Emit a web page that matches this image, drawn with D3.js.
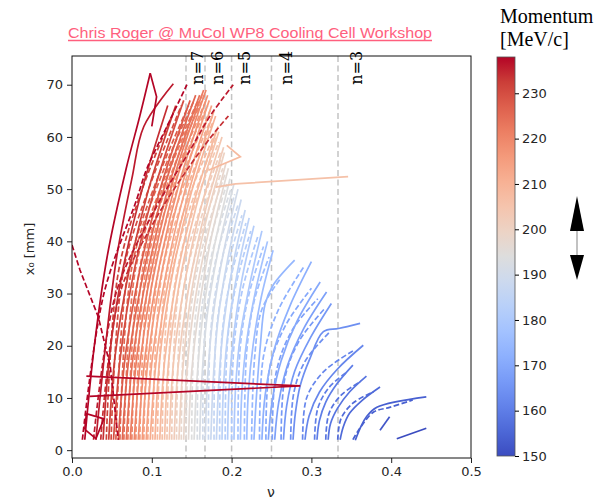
<!DOCTYPE html>
<html>
<head>
<meta charset="utf-8">
<script src="https://cdn.jsdelivr.net/npm/d3@7"></script>
<style>
body { margin: 0; background: #fff; }
svg { display: block; }
</style>
</head>
<body>
<div id="chart"></div>
<script>
// momentum of each tracked particle (MeV/c), drawn low to high
const momenta = [150, 152, 154, 156, 158, 160, 162, 164, 166, 168, 170, 172, 174, 176, 178,
    180, 182, 184, 186, 188, 190, 192, 194, 196, 198, 200, 202, 204, 206, 208,
    210, 212, 214, 216, 218, 220, 222, 224, 226, 228, 230, 232, 234, 236, 238];

// solid curves: [nu, x0]
const solidCurves = {
    150: [[0.407, 2.2], [0.444, 4.2]],
    152: [[0.386, 3.8], [0.398, 6.4]],
    154: [[0.355, 1.9], [0.362, 4.5], [0.369, 6.4], [0.382, 8.2], [0.444, 10.2]],
    156: [[0.336, 2], [0.340, 4.5], [0.348, 7.1], [0.364, 9.6], [0.386, 12.1]],
    158: [[0.321, 2], [0.324, 5.1], [0.333, 8.1], [0.348, 11.2], [0.369, 14.2]],
    160: [[0.307, 2], [0.310, 5.6], [0.318, 9.2], [0.332, 12.7], [0.352, 16.3]],
    162: [[0.292, 2], [0.297, 6.5], [0.310, 11.1], [0.333, 15.6], [0.365, 20.1]],
    164: [[0.277, 2], [0.280, 7.2], [0.286, 12.4], [0.298, 17.5], [0.315, 22.7], [0.334, 23.3], [0.361, 24.3]],
    166: [[0.265, 2], [0.269, 8.5], [0.279, 15.1], [0.299, 21.6], [0.325, 28.1]],
    168: [[0.254, 2], [0.259, 9.1], [0.270, 16.2], [0.290, 23.2], [0.319, 30.3]],
    170: [[0.246, 2], [0.251, 9.6], [0.262, 17.1], [0.282, 24.7], [0.311, 32.2]],
    172: [[0.238, 2], [0.242, 10.5], [0.253, 19.1], [0.273, 27.6], [0.300, 36.1]],
    174: [[0.228, 2], [0.231, 10], [0.236, 20], [0.242, 28], [0.252, 31.6], [0.279, 36.4]],
    176: [[0.219, 2], [0.221, 11.1], [0.227, 20.2], [0.237, 29.2], [0.252, 38.3]],
    178: [[0.211, 2], [0.213, 11.5], [0.219, 21], [0.230, 30.5], [0.245, 40]],
    180: [[0.203, 2], [0.205, 12], [0.211, 22], [0.223, 32], [0.238, 42]],
    182: [[0.195, 2], [0.197, 12.3], [0.203, 22.5], [0.213, 32.8], [0.228, 43]],
    184: [[0.188, 2], [0.190, 12.6], [0.196, 23.3], [0.207, 33.9], [0.222, 44.5]],
    186: [[0.181, 2], [0.184, 13], [0.190, 24], [0.201, 35], [0.217, 46]],
    188: [[0.174, 2], [0.177, 13.5], [0.183, 25], [0.195, 36.5], [0.212, 48]],
    190: [[0.167, 2], [0.170, 14], [0.177, 26], [0.190, 38], [0.208, 50]],
    192: [[0.160, 2], [0.163, 14.3], [0.170, 26.5], [0.184, 38.8], [0.203, 51]],
    194: [[0.153, 2], [0.157, 14.5], [0.165, 27], [0.179, 39.5], [0.198, 52]],
    196: [[0.146, 2], [0.150, 15], [0.160, 28], [0.175, 41], [0.196, 54]],
    198: [[0.140, 2], [0.144, 15.3], [0.154, 28.5], [0.171, 41.8], [0.193, 55]],
    200: [[0.134, 2], [0.139, 15.8], [0.149, 29.5], [0.167, 43.3], [0.191, 57]],
    202: [[0.128, 2], [0.133, 16], [0.145, 30], [0.164, 44], [0.190, 58]],
    204: [[0.122, 2], [0.127, 16.5], [0.140, 31], [0.160, 45.5], [0.188, 60]],
    206: [[0.116, 2], [0.121, 16.8], [0.134, 31.5], [0.155, 46.3], [0.184, 61]],
    208: [[0.110, 2], [0.116, 17], [0.130, 32], [0.152, 47], [0.183, 62]],
    210: [[0.104, 2], [0.110, 17.5], [0.125, 33], [0.148, 48.5], [0.180, 64]],
    212: [[0.098, 2], [0.106, 17.8], [0.122, 33.5], [0.146, 49.3], [0.178, 65]],
    214: [[0.093, 2], [0.101, 18], [0.118, 34], [0.142, 50], [0.175, 66]],
    216: [[0.088, 2], [0.096, 18.3], [0.113, 34.5], [0.138, 50.8], [0.172, 67]],
    218: [[0.083, 2], [0.092, 18.5], [0.109, 35], [0.135, 51.5], [0.170, 68]],
    220: [[0.078, 2], [0.087, 18.8], [0.105, 35.5], [0.132, 52.3], [0.168, 69]],
    222: [[0.073, 2], [0.082, 18.8], [0.101, 35.5], [0.128, 52.3], [0.165, 69]],
    224: [[0.068, 2], [0.077, 18.5], [0.096, 35], [0.123, 51.5], [0.160, 68]],
    226: [[0.063, 2], [0.072, 18.5], [0.091, 35], [0.118, 51.5], [0.155, 68]],
    228: [[0.058, 2], [0.067, 18.3], [0.085, 34.5], [0.112, 50.8], [0.148, 67]],
    230: [[0.052, 2], [0.061, 18.3], [0.078, 34.5], [0.105, 50.8], [0.140, 67]],
    232: [[0.046, 2], [0.054, 18], [0.071, 34], [0.096, 50], [0.130, 66]],
    234: [[0.039, 2], [0.047, 18], [0.063, 34], [0.088, 50], [0.120, 66]],
    236: [[0.030, 2], [0.042, 20], [0.056, 37], [0.075, 52], [0.090, 62], [0.127, 70.2]],
    238: [[0.016, 2], [0.028, 20], [0.044, 37], [0.068, 54], [0.085, 64], [0.098, 72.2]]
};

// dashed curves (second estimate), same momenta
const dashedCurves = {
    154: [[0.352, 2], [0.359, 3.8], [0.378, 7.3], [0.398, 8.2], [0.427, 9.6]],
    156: [[0.333, 2], [0.337, 6], [0.352, 9], [0.378, 11.2]],
    158: [[0.318, 2], [0.322, 7], [0.337, 10.5], [0.362, 13.2]],
    160: [[0.304, 2], [0.308, 8], [0.322, 12], [0.345, 15]],
    162: [[0.289, 2], [0.294, 10], [0.315, 15], [0.352, 19]],
    164: [[0.274, 2], [0.278, 11], [0.292, 17], [0.322, 22.5]],
    166: [[0.262, 2], [0.267, 14], [0.285, 21], [0.316, 27]],
    168: [[0.251, 2], [0.256, 15], [0.276, 23], [0.308, 29]],
    170: [[0.243, 2], [0.248, 16], [0.268, 24], [0.300, 31]],
    172: [[0.235, 2], [0.240, 18], [0.259, 27], [0.290, 35]],
    174: [[0.225, 2], [0.229, 18], [0.238, 27], [0.262, 33]],
    176: [[0.216, 2], [0.219, 19], [0.229, 29], [0.247, 37]],
    178: [[0.208, 2], [0.211, 20], [0.222, 30], [0.240, 39]],
    180: [[0.200, 2], [0.203, 20], [0.214, 31], [0.233, 41]],
    182: [[0.192, 2], [0.195, 21], [0.206, 32], [0.224, 42]],
    184: [[0.185, 2], [0.188, 22], [0.199, 33], [0.218, 43.5]],
    186: [[0.178, 2], [0.181, 23], [0.193, 34], [0.213, 45]],
    188: [[0.171, 2], [0.174, 23], [0.187, 36], [0.208, 47]],
    190: [[0.164, 2], [0.167, 24], [0.181, 37], [0.204, 49]],
    192: [[0.157, 2], [0.161, 25], [0.176, 38], [0.199, 50]],
    194: [[0.150, 2], [0.155, 26], [0.171, 39], [0.194, 51]],
    196: [[0.143, 2], [0.149, 27], [0.167, 41], [0.192, 53]],
    198: [[0.137, 2], [0.143, 28], [0.163, 42], [0.189, 54]],
    200: [[0.131, 2], [0.138, 29], [0.159, 43], [0.187, 56]],
    202: [[0.125, 2], [0.133, 30], [0.156, 44], [0.186, 57]],
    204: [[0.119, 2], [0.128, 31], [0.152, 46], [0.184, 59]],
    206: [[0.113, 2], [0.122, 31], [0.147, 46], [0.181, 60]],
    208: [[0.107, 2], [0.117, 32], [0.143, 47], [0.180, 61]],
    210: [[0.101, 2], [0.112, 33], [0.139, 48], [0.177, 63]],
    212: [[0.095, 2], [0.107, 33], [0.136, 49], [0.176, 64]],
    214: [[0.090, 2], [0.102, 34], [0.132, 50], [0.173, 65]],
    216: [[0.085, 2], [0.097, 34], [0.128, 51], [0.170, 66]],
    218: [[0.080, 2], [0.093, 35], [0.125, 51], [0.168, 67]],
    220: [[0.075, 2], [0.089, 35], [0.122, 52], [0.166, 68]],
    222: [[0.070, 2], [0.085, 35], [0.118, 52], [0.163, 68]],
    224: [[0.065, 2], [0.080, 35], [0.113, 51], [0.158, 67]],
    226: [[0.060, 2], [0.075, 35], [0.108, 51], [0.153, 67]],
    228: [[0.055, 2], [0.070, 34], [0.102, 50], [0.146, 66]],
    230: [[0.049, 2], [0.064, 34], [0.096, 50], [0.137, 66]],
    232: [[0.043, 2], [0.058, 34], [0.088, 50], [0.128, 65]],
    234: [[0.036, 2], [0.060, 30], [0.100, 43], [0.150, 55], [0.181, 61.3], [0.196, 64]],
    236: [[0.027, 2], [0.055, 30], [0.100, 45], [0.150, 58], [0.173, 64], [0.202, 70]],
    238: [[0.013, 2], [0.040, 30], [0.081, 48], [0.094, 54], [0.119, 62], [0.144, 70]]
};

// odd straight pieces (lost tracks)
const strayMomenta = [238, 238, 238, 206, 208, 238];
const strayDashes = [false, false, false, false, false, true];
const strayCurves = [
    [[0.098, 72.2], [0.106, 67.7], [0.100, 62]],
    [[0.018, 14.2], [0.286, 12.3], [0.022, 10.3]],
    [[0.016, 4], [0.018, 7], [0.040, 6], [0.030, 2.2], [0.016, 4]],
    [[0.180, 50.4], [0.205, 51], [0.346, 52.4]],
    [[0.171, 53.6], [0.211, 56.2], [0.194, 58.4]],
    [[0.0, 39.3], [0.010, 34.5], [0.033, 25.5], [0.048, 16], [0.058, 2]]
];

// resonance lines nu = 1/n and their labels
const resonanceN = [7, 6, 5, 4, 3];
const resonanceNu = [1 / 7, 1 / 6, 1 / 5, 1 / 4, 1 / 3];
const resonanceLabelNu = [0.164, 0.189, 0.223, 0.276, 0.363];

const xTicks = [0, 0.1, 0.2, 0.3, 0.4, 0.5];
const yTicks = [0, 10, 20, 30, 40, 50, 60, 70];
const cTicks = [150, 160, 170, 180, 190, 200, 210, 220, 230];

// matplotlib coolwarm
const coolwarm = ['#3b4cc0', '#4d68d7', '#6282ea', '#779af7', '#8db0fe', '#a3c2ff', '#b8d0f9', '#ccd9ee',
    '#dddddd', '#ecd3c5', '#f5c4ad', '#f7b194', '#f49a7b', '#ec7f63', '#de604d', '#cb3e38', '#b40426'];

const width = 612;
const height = 503;
const pMin = 150, pMax = 238;

const x = d3.scaleLinear().domain([0, 0.5]).range([72, 471]);
const y = d3.scaleLinear().domain([-1.5, 75.5]).range([458, 56]);
const c = d3.scaleLinear().domain([pMin, pMax]).range([456, 57]);

const color = d3.scaleLinear()
    .domain(coolwarm.map((d, i) => pMin + i * (pMax - pMin) / (coolwarm.length - 1)))
    .range(coolwarm)
    .interpolate(d3.interpolateRgb);

const svg = d3.select('#chart').append('svg').attr('width', width).attr('height', height);
svg.append('rect').attr('width', width).attr('height', height).attr('fill', '#fff');

// title _______________________________________________________________________
svg.append('text')
    .attr('x', 68).attr('y', 37.5)
    .attr('font-family', 'Liberation Sans, Arial, sans-serif')
    .attr('font-size', 15)
    .attr('fill', '#ff5f7e')
    .attr('textLength', 364).attr('lengthAdjust', 'spacingAndGlyphs')
    .text('Chris Roger @ MuCol WP8 Cooling Cell Workshop');
svg.append('line')
    .attr('x1', 68).attr('x2', 432).attr('y1', 40.5).attr('y2', 40.5)
    .attr('stroke', '#ff5f7e').attr('stroke-width', 1.4);

svg.append('clipPath').attr('id', 'plot')
    .append('rect').attr('x', 72).attr('y', 56).attr('width', 399).attr('height', 402);

const plot = svg.append('g').attr('clip-path', 'url(#plot)');

// resonance lines
plot.append('g')
    .selectAll('line').data(resonanceNu).enter().append('line')
    .attr('x1', d => x(d)).attr('x2', d => x(d))
    .attr('y1', 56).attr('y2', 458)
    .attr('stroke', '#c4c4c4').attr('stroke-width', 1.5)
    .attr('stroke-dasharray', '6,3.5');

// curves ______________________________________________________________________
const curve = d3.line()
    .x(d => x(d[0]))
    .y(d => y(d[1]))
    .curve(d3.curveCatmullRom.alpha(0.5));

const straight = d3.line()
    .x(d => x(d[0]))
    .y(d => y(d[1]));

for (const p of momenta) {
    if (solidCurves[p]) plot.append('path')
        .attr('d', curve(solidCurves[p]))
        .attr('fill', 'none').attr('stroke', color(p)).attr('stroke-width', 1.7);
    if (dashedCurves[p]) plot.append('path')
        .attr('d', curve(dashedCurves[p]))
        .attr('fill', 'none').attr('stroke', color(p)).attr('stroke-width', 1.7)
        .attr('stroke-dasharray', '5.5,2.5');
}

strayCurves.forEach((pts, i) => {
    plot.append('path')
        .attr('d', straight(pts))
        .attr('fill', 'none').attr('stroke', color(strayMomenta[i])).attr('stroke-width', 1.7)
        .attr('stroke-dasharray', strayDashes[i] ? '5.5,2.5' : null);
});

// axes ________________________________________________________________________
const xAxis = g => g
    .attr('transform', 'translate(0, 458)')
    .call(d3.axisBottom(x).tickValues(xTicks).tickFormat(d3.format('.1f')).tickSize(5).tickPadding(4))
    .call(g => g.select('.domain').remove());

const yAxis = g => g
    .attr('transform', 'translate(72, 0)')
    .call(d3.axisLeft(y).tickValues(yTicks).tickSize(5).tickPadding(4))
    .call(g => g.select('.domain').remove());

svg.append('g').call(xAxis);
svg.append('g').call(yAxis);
svg.selectAll('.tick text')
    .attr('font-family', 'DejaVu Sans, sans-serif').attr('font-size', 13).attr('fill', '#262626');
svg.selectAll('.tick line').attr('stroke', '#222');

svg.append('rect')
    .attr('x', 72).attr('y', 56).attr('width', 399).attr('height', 402)
    .attr('fill', 'none').attr('stroke', '#111').attr('stroke-width', 1);

svg.append('text')
    .attr('x', 271).attr('y', 497)
    .attr('text-anchor', 'middle')
    .attr('font-family', 'DejaVu Sans, sans-serif').attr('font-size', 14).attr('fill', '#262626')
    .text('ν');

svg.append('text')
    .attr('transform', 'translate(34, 249) rotate(-90)')
    .attr('text-anchor', 'middle')
    .attr('font-family', 'DejaVu Sans, sans-serif').attr('font-size', 13).attr('fill', '#262626')
    .text('x₀ [mm]');

// resonance labels
svg.append('g')
    .selectAll('text').data(resonanceN).enter().append('text')
    .attr('transform', (d, i) => `translate(${x(resonanceLabelNu[i])}, ${y(70)}) rotate(-90)`)
    .attr('font-family', 'DejaVu Serif, serif').attr('font-size', 16).attr('fill', '#000')
    .text(d => 'n=' + d);

// colour bar __________________________________________________________________
const grad = svg.append('defs').append('linearGradient')
    .attr('id', 'cbar').attr('x1', 0).attr('x2', 0).attr('y1', 1).attr('y2', 0);
grad.selectAll('stop').data(coolwarm).enter().append('stop')
    .attr('offset', (d, i) => i / (coolwarm.length - 1))
    .attr('stop-color', d => d);

svg.append('rect')
    .attr('x', 497).attr('y', 57).attr('width', 18).attr('height', 399)
    .attr('fill', 'url(#cbar)').attr('stroke', '#555').attr('stroke-width', 0.8);

const cAxis = g => g
    .attr('transform', 'translate(515, 0)')
    .call(d3.axisRight(c).tickValues(cTicks).tickSize(4).tickPadding(3))
    .call(g => g.select('.domain').remove())
    .call(g => g.selectAll('text')
        .attr('font-family', 'DejaVu Sans, sans-serif').attr('font-size', 13).attr('fill', '#262626'));
svg.append('g').call(cAxis);

svg.append('text')
    .attr('x', 500).attr('y', 23)
    .attr('font-family', 'Liberation Serif, Times New Roman, serif').attr('font-size', 20)
    .text('Momentum');
svg.append('text')
    .attr('x', 500).attr('y', 46)
    .attr('font-family', 'Liberation Serif, Times New Roman, serif').attr('font-size', 20)
    .text('[MeV/c]');

// double arrow next to the colour bar
svg.append('line')
    .attr('x1', 577).attr('x2', 577).attr('y1', 230).attr('y2', 256)
    .attr('stroke', '#999').attr('stroke-width', 1.2);
svg.append('path').attr('d', 'M577,196 L570,231 L584,231 Z').attr('fill', '#000');
svg.append('path').attr('d', 'M577,280 L570,255 L584,255 Z').attr('fill', '#000');
</script>
</body>
</html>
